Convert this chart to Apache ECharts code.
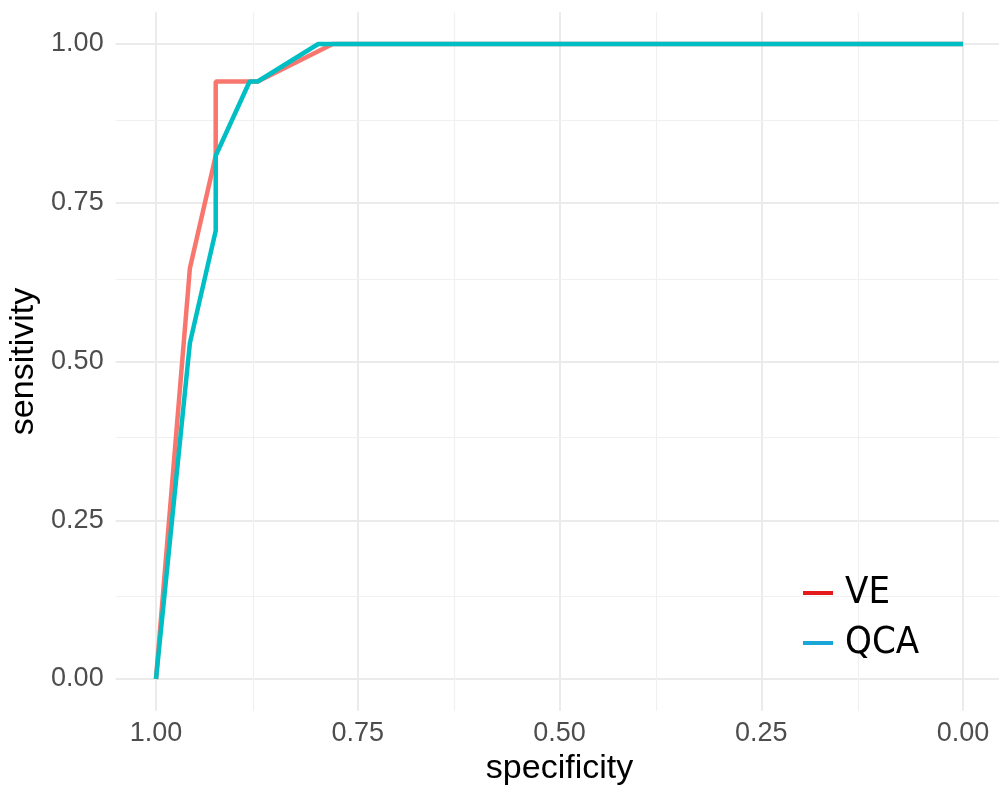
<!DOCTYPE html>
<html>
<head>
<meta charset="utf-8">
<script src="https://cdn.jsdelivr.net/npm/echarts@6/dist/echarts.min.js"></script>
<style>
  html, body { margin: 0; padding: 0; background: #fff; }
  #chart { width: 999px; height: 794px; }
</style>
</head>
<body>
<div id="chart"></div>
<script>
// ROC points as [specificity, sensitivity]
var veSpec = [1.0, 0.958, 0.926, 0.926, 0.874, 0.781, 0.0];
var veSens = [0.0, 0.647, 0.824, 0.941, 0.941, 1.0, 1.0];

var qcaSpec = [1.0, 0.958, 0.926, 0.926, 0.884, 0.874, 0.799, 0.0];
var qcaSens = [0.0, 0.529, 0.706, 0.824, 0.941, 0.941, 1.0, 1.0];

var majorTicks = [0, 0.25, 0.5, 0.75, 1];
var minorTicks = [0.125, 0.375, 0.625, 0.875];
var seriesNames = ['VE', 'QCA'];

function pairs(xs, ys) {
    var out = [];
    for (var i = 0; i < xs.length; i++) {
        out.push([xs[i], ys[i]]);
    }
    return out;
}

function fmt(v) {
    return v.toFixed(2);
}

var minorLines = [];
minorTicks.forEach(function (v) {
    minorLines.push({ xAxis: v });
    minorLines.push({ yAxis: v });
});

var labelFont = 'Liberation Sans, Arial, sans-serif';

var myChart = echarts.init(document.getElementById('chart'), null, { renderer: 'canvas' });

var option = {
    animation: false,
    backgroundColor: '#ffffff',
    grid: {
        left: 115.65,
        right: -4.35,
        top: 12.25,
        bottom: 83.25,
        containLabel: false,
        outerBoundsMode: 'none'
    },
    legend: {
        orient: 'vertical',
        left: 803,
        top: 574,
        padding: 0,
        icon: 'rect',
        itemWidth: 30,
        itemHeight: 4,
        itemGap: 12,
        textStyle: {
            fontSize: 38,
            lineHeight: 38,
            color: '#000',
            fontFamily: 'Liberation Sans Narrow, DejaVu Sans Condensed, sans-serif',
            padding: [0, 0, 0, 7]
        },
        data: [
            { name: seriesNames[0], itemStyle: { color: '#e41a1c' } },
            { name: seriesNames[1], itemStyle: { color: '#1ba6d8' } }
        ]
    },
    xAxis: {
        type: 'value',
        inverse: true,
        min: -0.05,
        max: 1.05,
        name: 'specificity',
        nameLocation: 'middle',
        nameGap: 41,
        nameTextStyle: { fontSize: 34, color: '#000', fontFamily: labelFont },
        axisLine: { show: false },
        axisTick: { show: false, customValues: majorTicks },
        axisLabel: {
            customValues: majorTicks,
            formatter: fmt,
            fontSize: 27,
            color: '#4d4d4d',
            fontFamily: labelFont,
            margin: 9
        },
        splitLine: { show: true, lineStyle: { color: '#ebebeb', width: 2 } }
    },
    yAxis: {
        type: 'value',
        min: -0.05,
        max: 1.05,
        name: 'sensitivity',
        nameLocation: 'middle',
        nameGap: 66,
        nameTextStyle: { fontSize: 34, color: '#000', fontFamily: labelFont },
        axisLine: { show: false },
        axisTick: { show: false, customValues: majorTicks },
        axisLabel: {
            customValues: majorTicks,
            formatter: fmt,
            fontSize: 27,
            color: '#4d4d4d',
            fontFamily: labelFont,
            margin: 12
        },
        splitLine: { show: true, lineStyle: { color: '#ebebeb', width: 2 } }
    },
    series: [
        {
            name: seriesNames[0],
            type: 'line',
            data: pairs(veSpec, veSens),
            showSymbol: false,
            color: '#f8766d',
            lineStyle: { color: '#f8766d', width: 4.5 },
            markLine: {
                silent: true,
                z: 1,
                symbol: 'none',
                label: { show: false },
                lineStyle: { color: '#f0f0f0', width: 1.2, type: 'solid' },
                data: minorLines
            }
        },
        {
            name: seriesNames[1],
            type: 'line',
            data: pairs(qcaSpec, qcaSens),
            showSymbol: false,
            color: '#00bfc4',
            lineStyle: { color: '#00bfc4', width: 4.5 }
        }
    ]
};

myChart.setOption(option);
</script>
</body>
</html>
